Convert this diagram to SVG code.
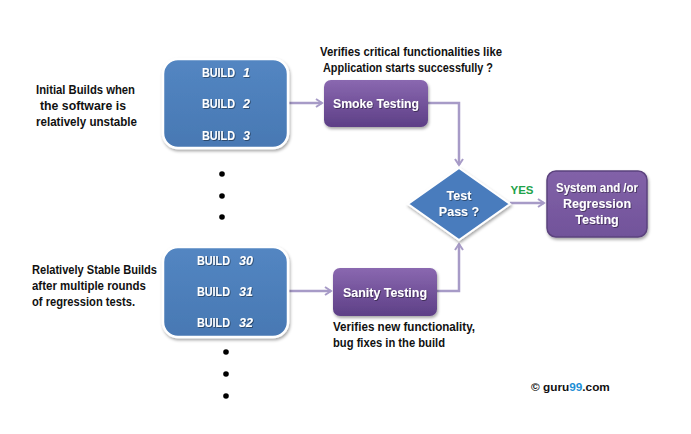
<svg xmlns="http://www.w3.org/2000/svg" width="691" height="434" viewBox="0 0 691 434">
<defs>
<linearGradient id="gBlue" x1="0" y1="0" x2="0" y2="1">
<stop offset="0" stop-color="#5386c2"/><stop offset="1" stop-color="#4878b3"/>
</linearGradient>
<linearGradient id="gPurple" x1="0" y1="0" x2="0" y2="1">
<stop offset="0" stop-color="#8a68b0"/><stop offset="1" stop-color="#5d3f86"/>
</linearGradient>
<linearGradient id="gSys" x1="0" y1="0" x2="0" y2="1">
<stop offset="0" stop-color="#8262a8"/><stop offset="1" stop-color="#71539a"/>
</linearGradient>
<filter id="sh" x="-10%" y="-10%" width="125%" height="130%">
<feDropShadow dx="1" dy="2" stdDeviation="1.5" flood-color="#000" flood-opacity="0.35"/>
</filter>
<filter id="tsh" x="-10%" y="-20%" width="130%" height="150%">
<feDropShadow dx="0.8" dy="0.8" stdDeviation="0.4" flood-color="#000" flood-opacity="0.5"/>
</filter>
<marker id="arr" markerWidth="10" markerHeight="10" refX="7" refY="5" orient="auto" markerUnits="userSpaceOnUse">
<path d="M1,1 L7,5 L1,9" fill="none" stroke="#a79bc7" stroke-width="2"/>
</marker>
</defs>
<style>
.note{font-family:"Liberation Sans",Arial,sans-serif;font-weight:bold;font-size:13px;fill:#111}
.wt{font-family:"Liberation Sans",Arial,sans-serif;font-weight:bold;fill:#fff}
.bl{font-family:"Liberation Sans",Arial,sans-serif;font-weight:bold;fill:#fff;font-size:12.5px}
.num{font-style:italic}
.build{fill:url(#gBlue);stroke:#fff;stroke-width:2.5}
.proc{fill:url(#gPurple)}
.conn{fill:none;stroke:#a79bc7;stroke-width:2.5;marker-end:url(#arr)}
.dot{fill:#000}
</style>
<rect width="691" height="434" fill="#fff"/>

<g id="connectors">
<path class="conn" d="M289,103 L322,103"/>
<path class="conn" d="M289,291 L331,291"/>
<path class="conn" d="M428,103 L459,103 L459,165"/>
<path class="conn" d="M437,291 L459,291 L459,244"/>
<path class="conn" d="M510,203 L544,203"/>
</g>

<g id="note-initial">
<text class="note" x="36" y="94" textLength="99" lengthAdjust="spacingAndGlyphs">Initial Builds when</text>
<text class="note" x="40" y="110" textLength="86" lengthAdjust="spacingAndGlyphs">the software is</text>
<text class="note" x="36" y="126" textLength="101" lengthAdjust="spacingAndGlyphs">relatively unstable</text>
</g>
<g id="note-stable">
<text class="note" x="32" y="274" textLength="125" lengthAdjust="spacingAndGlyphs">Relatively Stable Builds</text>
<text class="note" x="32" y="290" textLength="114" lengthAdjust="spacingAndGlyphs">after multiple rounds</text>
<text class="note" x="32" y="306" textLength="103" lengthAdjust="spacingAndGlyphs">of regression tests.</text>
</g>

<g id="builds-1">
<rect class="build" x="163" y="59" width="125" height="89" rx="15" filter="url(#sh)"/>
<g filter="url(#tsh)">
<text class="bl" x="202" y="77" textLength="33" lengthAdjust="spacingAndGlyphs">BUILD</text><text class="bl num" x="243" y="77">1</text>
<text class="bl" x="202" y="108" textLength="33" lengthAdjust="spacingAndGlyphs">BUILD</text><text class="bl num" x="243" y="108">2</text>
<text class="bl" x="202" y="140" textLength="33" lengthAdjust="spacingAndGlyphs">BUILD</text><text class="bl num" x="243" y="140">3</text>
</g>
</g>

<g id="dots-1">
<circle class="dot" cx="222" cy="174" r="2.8"/>
<circle class="dot" cx="222" cy="196" r="2.8"/>
<circle class="dot" cx="222" cy="217" r="2.8"/>
</g>

<g id="builds-2">
<rect class="build" x="163" y="247" width="125" height="90" rx="15" filter="url(#sh)"/>
<g filter="url(#tsh)">
<text class="bl" x="197" y="265" textLength="33" lengthAdjust="spacingAndGlyphs">BUILD</text><text class="bl num" x="239" y="265">30</text>
<text class="bl" x="197" y="296" textLength="33" lengthAdjust="spacingAndGlyphs">BUILD</text><text class="bl num" x="239" y="296">31</text>
<text class="bl" x="197" y="327" textLength="33" lengthAdjust="spacingAndGlyphs">BUILD</text><text class="bl num" x="239" y="327">32</text>
</g>
</g>

<g id="dots-2">
<circle class="dot" cx="226" cy="352" r="2.8"/>
<circle class="dot" cx="226" cy="374" r="2.8"/>
<circle class="dot" cx="226" cy="396" r="2.8"/>
</g>

<g id="note-smoke">
<text class="note" x="320" y="56" textLength="182" lengthAdjust="spacingAndGlyphs">Verifies critical functionalities like</text>
<text class="note" x="323" y="72" textLength="170" lengthAdjust="spacingAndGlyphs">Application starts successfully ?</text>
</g>

<g id="smoke">
<rect class="proc" x="324" y="80" width="104" height="47" rx="7" filter="url(#sh)"/>
<text class="wt" x="376" y="108" font-size="13.5" text-anchor="middle" textLength="86" lengthAdjust="spacingAndGlyphs" filter="url(#tsh)">Smoke Testing</text>
</g>

<g id="sanity">
<rect class="proc" x="333" y="268" width="104" height="48" rx="7" filter="url(#sh)"/>
<text class="wt" x="385" y="297" font-size="13.5" text-anchor="middle" textLength="84" lengthAdjust="spacingAndGlyphs" filter="url(#tsh)">Sanity Testing</text>
</g>

<g id="note-sanity">
<text class="note" x="333" y="331" textLength="142" lengthAdjust="spacingAndGlyphs">Verifies new functionality,</text>
<text class="note" x="333" y="347" textLength="112" lengthAdjust="spacingAndGlyphs">bug fixes in the build</text>
</g>

<g id="decision">
<polygon points="459,168 510,204 459,240 408,204" fill="#4a7cbd" stroke="#fff" stroke-width="2" filter="url(#sh)"/>
<text class="wt" x="459" y="200" font-size="12.5" text-anchor="middle" filter="url(#tsh)">Test</text>
<text class="wt" x="459" y="216" font-size="12.5" text-anchor="middle" filter="url(#tsh)">Pass ?</text>
</g>

<text x="522" y="194" text-anchor="middle" font-family="Liberation Sans,Arial,sans-serif" font-weight="bold" font-size="11.5" fill="#1fa34a">YES</text>

<g id="system">
<rect x="547" y="171" width="100" height="66" rx="9" fill="url(#gSys)" stroke="#5b437e" stroke-width="1.5" filter="url(#sh)"/>
<g filter="url(#tsh)">
<text class="wt" x="597" y="192" font-size="12.5" text-anchor="middle" textLength="82" lengthAdjust="spacingAndGlyphs">System and /or</text>
<text class="wt" x="597" y="208" font-size="12.5" text-anchor="middle">Regression</text>
<text class="wt" x="597" y="224" font-size="12.5" text-anchor="middle">Testing</text>
</g>
</g>

<text x="531" y="391" font-family="Liberation Sans,Arial,sans-serif" font-weight="bold" font-size="11.8" fill="#111">© guru<tspan fill="#1e8fd6">99</tspan>.com</text>
</svg>
